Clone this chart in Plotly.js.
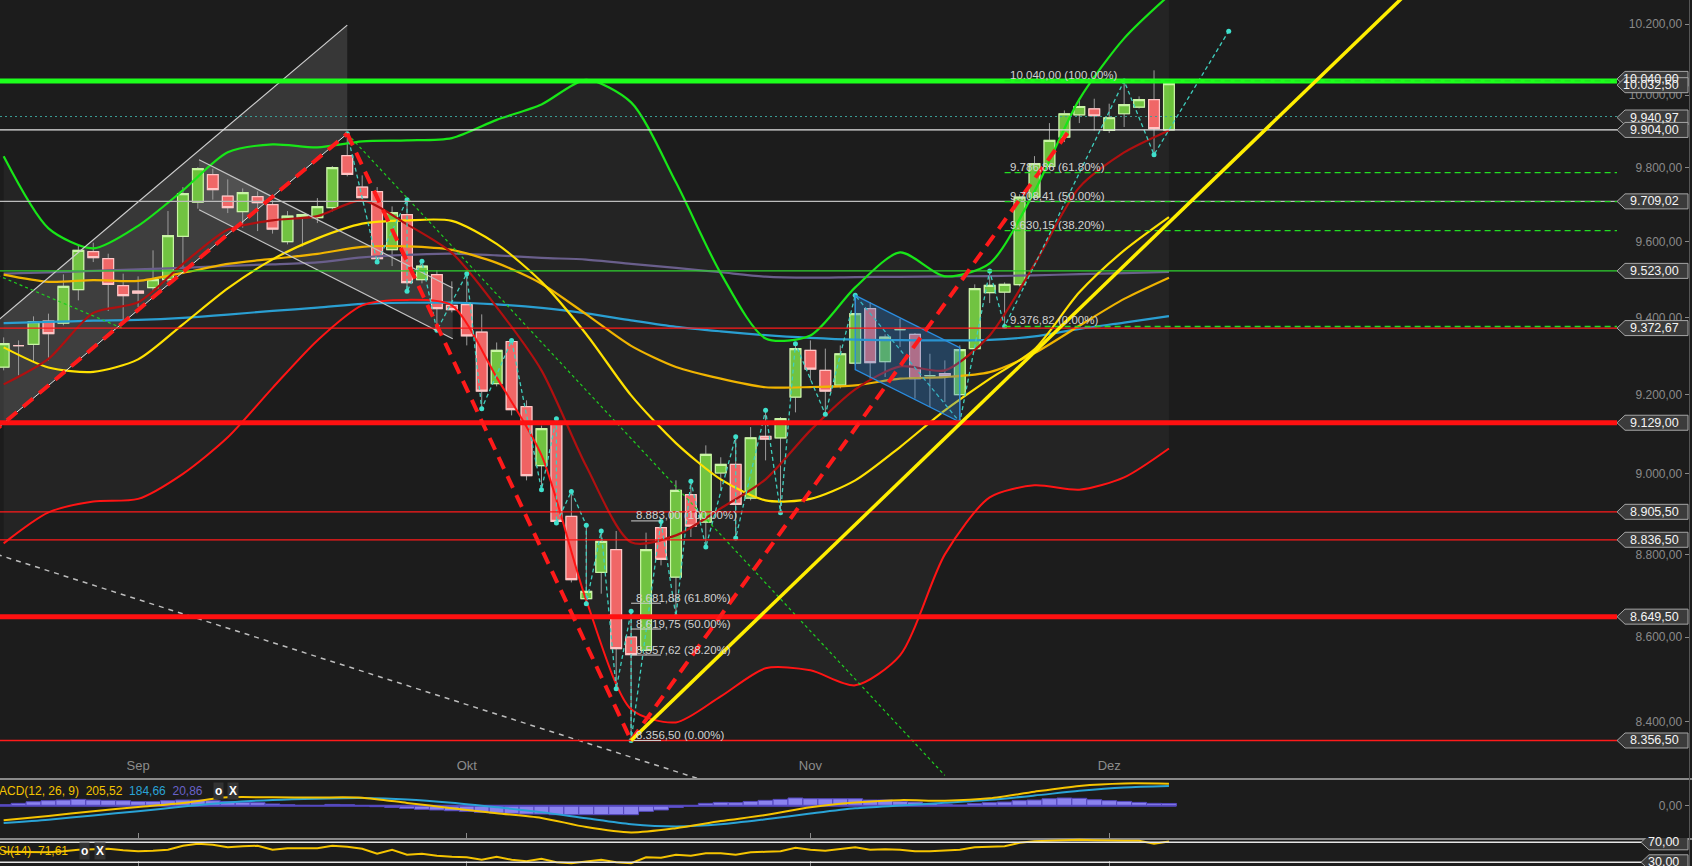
<!DOCTYPE html>
<html><head><meta charset="utf-8">
<script src="https://cdn.plot.ly/plotly-3.0.1.min.js"></script>
<style>html,body{margin:0;padding:0;background:#1c1c1c;overflow:hidden}#chart{width:1692px;height:866px}</style>
</head><body><div id="chart"></div>
<script>
// ---------- DATA ----------
const dates = ['2014-08-19','2014-08-20','2014-08-21','2014-08-22','2014-08-25','2014-08-26','2014-08-27','2014-08-28','2014-08-29',
'2014-09-01','2014-09-02','2014-09-03','2014-09-04','2014-09-05','2014-09-08','2014-09-09','2014-09-10','2014-09-11','2014-09-12',
'2014-09-15','2014-09-16','2014-09-17','2014-09-18','2014-09-19','2014-09-22','2014-09-23','2014-09-24','2014-09-25','2014-09-26','2014-09-29','2014-09-30',
'2014-10-01','2014-10-02','2014-10-03','2014-10-06','2014-10-07','2014-10-08','2014-10-09','2014-10-10','2014-10-13','2014-10-14','2014-10-15','2014-10-16','2014-10-17',
'2014-10-20','2014-10-21','2014-10-22','2014-10-23','2014-10-24','2014-10-27','2014-10-28','2014-10-29','2014-10-30','2014-10-31',
'2014-11-03','2014-11-04','2014-11-05','2014-11-06','2014-11-07','2014-11-10','2014-11-11','2014-11-12','2014-11-13','2014-11-14',
'2014-11-17','2014-11-18','2014-11-19','2014-11-20','2014-11-21','2014-11-24','2014-11-25','2014-11-26','2014-11-27','2014-11-28',
'2014-12-01','2014-12-02','2014-12-03','2014-12-04','2014-12-05'];

const open  = [9271.5,9326.9,9330.2,9391.0,9385.8,9473.4,9574.1,9555.4,9483.9,
9469.7,9478.7,9499.8,9614.9,9707.1,9781.4,9723.4,9681.3,9721.7,9700.1,9600.7,9666.7,9665.1,9692.0,9833.3,9747.7,9735.2,9579.4,9673.2,9499.8,9513.0,9432.1,
9434.0,9362.2,9228.8,9337.7,9169.9,9020.6,9124.9,8894.2,8692.8,8756.6,8812.2,8600.6,8568.8,8866.3,8745.3,8948.1,8880.1,9002.2,9023.8,8939.7,9094.4,9090.6,9194.5,
9314.7,9263.1,9225.2,9281.8,9423.5,9285.5,9368.6,9356.3,9249.4,9254.5,9200.6,9319.3,9465.5,9467.1,9486.6,9720.7,9804.1,9884.4,9945.8,9962.4,
9902.7,9948.6,9966.8,9987.6,9904.0];
const high  = [9348.4,9340.6,9403.3,9410.4,9513.8,9590.9,9598.1,9568.7,9515.7,
9508.5,9577.6,9682.9,9747.7,9802.2,9797.8,9768.6,9744.0,9736.1,9711.7,9682.9,9674.0,9717.9,9804.9,9893.7,9779.5,9747.7,9695.5,9713.6,9548.3,9524.4,9495.3,
9515.7,9408.5,9335.2,9340.6,9186.0,9121.6,9139.3,8956.3,8872.0,8858.1,8858.1,8662.2,8854.1,8881.8,8983.8,8981.3,9071.7,9041.7,9093.8,9118.0,9160.5,9143.4,9332.1,
9340.6,9319.3,9327.6,9458.4,9440.7,9356.3,9397.3,9359.7,9306.0,9288.8,9327.6,9487.4,9522.5,9492.6,9728.0,9832.1,9922.8,9957.8,9990.3,9990.3,
9976.5,10040.0,9996.9,10069.5,10033.0];
const low   = [9263.1,9250.2,9284.4,9288.8,9379.7,9445.2,9546.4,9417.2,9388.3,
9427.6,9467.1,9492.6,9533.1,9689.3,9713.6,9677.5,9638.2,9629.1,9622.3,9593.5,9588.2,9650.6,9682.0,9776.8,9709.0,9546.4,9535.8,9468.9,9490.0,9366.7,9413.8,
9327.6,9164.8,9221.9,9147.8,8983.8,8960.6,8877.6,8732.3,8680.7,8704.9,8477.8,8356.5,8557.0,8773.8,8650.1,8843.2,8818.8,8958.8,8840.7,8933.9,9033.9,8903.4,9155.4,
9237.3,9150.3,9216.8,9276.0,9241.7,9245.8,9323.4,9190.4,9168.9,9181.7,9130.7,9314.7,9438.1,9376.8,9482.1,9714.4,9798.6,9870.5,9922.8,9902.7,
9895.3,9911.8,9963.2,9836.0,9902.7];
const close = [9332.1,9326.9,9389.4,9358.1,9482.1,9577.6,9558.1,9487.4,9457.6,
9464.5,9499.8,9616.8,9729.9,9797.8,9740.7,9692.0,9732.6,9705.5,9634.5,9669.4,9673.2,9694.7,9800.5,9782.2,9719.0,9555.4,9678.6,9491.8,9535.8,9423.5,9420.8,
9352.6,9209.9,9314.9,9162.3,8995.6,9114.0,8881.8,8738.9,8710.5,8832.6,8572.8,8558.6,8812.2,8788.5,8958.8,8870.3,9049.2,9023.8,8924.0,9091.0,9087.6,9139.3,9319.3,
9266.4,9209.9,9306.0,9410.4,9282.9,9349.2,9368.6,9241.7,9249.4,9248.4,9316.7,9476.0,9484.7,9487.4,9720.7,9811.4,9875.2,9948.6,9968.8,9943.1,
9937.6,9973.7,9987.6,9907.4,10032.5];

// indicator lines, read every third trading day (first value = 2014-08-19)
const upperBB = [9831.4,9636.4,9582.9,9643.1,9738.8,9842.3,9864.2,9856.0,9872.5,9875.2,9881.5,9931.7,9974.6,10042.9,9980.2,9760.5,9516.5,9345.8,9353.6,9479.5,9572.2,9508.5,9543.0,9736.1,9988.5,10159.5,10281.8];
const midBB   = [9227.0,9292.7,9412.4,9440.0,9541.6,9632.9,9657.8,9669.4,9711.7,9647.1,9570.9,9427.6,9263.1,9018.9,8830.6,8847.3,8914.1,8986.3,9109.7,9214.3,9273.3,9263.1,9353.6,9540.3,9746.9,9842.3,9902.7];
const lowerBB = [8827.7,8904.1,8931.4,8937.6,9000.1,9092.0,9218.1,9340.6,9432.1,9446.5,9432.1,9245.0,9047.1,8688.7,8429.2,8398.7,8459.7,8526.0,8521.2,8485.7,8556.8,8800.7,8941.4,8971.3,8960.6,8991.3,9063.9];
const yellowMA = [9322.5,9270.3,9259.2,9291.4,9382.4,9476.8,9553.6,9609.6,9649.0,9657.8,9656.5,9594.9,9493.9,9356.7,9198.8,9077.5,8986.3,8933.9,8937.6,8983.8,9067.5,9160.5,9241.2,9317.3,9466.3,9577.6,9666.8];
const goldMA   = [9513.0,9494.0,9498.7,9496.6,9517.8,9541.6,9554.9,9568.2,9586.9,9588.2,9578.9,9544.3,9489.2,9408.5,9326.4,9271.8,9241.7,9219.6,9220.1,9224.5,9241.7,9245.8,9258.6,9307.7,9378.7,9449.1,9505.1];
const blueMA   = [9385.8,9388.6,9392.0,9394.1,9399.3,9407.7,9417.7,9425.9,9436.0,9438.9,9439.2,9434.7,9425.6,9411.1,9392.8,9375.8,9364.1,9354.1,9347.1,9342.4,9341.1,9340.6,9341.9,9351.0,9370.6,9386.8,9404.1];
const purpleMA = [9515.7,9519.1,9523.1,9527.0,9530.8,9536.4,9540.3,9545.6,9558.9,9565.5,9568.7,9564.2,9557.5,9553.0,9541.6,9531.0,9519.4,9507.8,9505.1,9506.7,9507.2,9508.5,9509.3,9511.2,9514.4,9517.3,9520.0];

const macdLine   = [-137,-97,-51,-12,26,78,78,77,75,26,-24,-70,-114,-200,-250,-210,-144,-88,-15,29,52,47,69,131,185,208,205.52];
const signalLine = [-162,-131,-91,-52,-8,30,54,66,71,59,28,-14,-60,-118,-173,-194,-174,-127,-73,-24,2,27,55,95,139,171,184.66];
const macdHist = [9,22,37,47,53,59,53,50,47,
40,40,47,53,53,47,40,31,28,16,9,3,2,12,9,0,-9,-16,-25,-34,-40,-47,
-53,-62,-69,-72,-78,-78,-84,-84,-84,-84,-84,-84,-53,-40,-16,-3,22,31,28,40,50,59,72,
65,65,65,65,53,53,40,34,22,12,6,19,28,34,47,53,65,72,69,56,
47,40,31,22,20.86];
const rsi = [51,51,50,50,52,55,56,57,54,
52,53,55,63,67,65,60,62,63,55,58,58,58,63,61,57,47,55,45,47,43,41,
40,35,41,35,32,37,30,28,32,35,30,28,40,39,45,43,48,48,45,50,51,52,59,
55,53,57,60,55,56,55,52,52,53,55,60,61,62,69,72,73,74,75,74,
73,73,73,67,71.61];

// zigzag swing points (trading-day offset from 1 Sep, price)
const zzDay   = [14,16,18,18,19,20,22,23,25,27,28,28,29,30,30,31,32,33,33,35,36,37,38,40,40,42,43,44,46,48,55,57,58,66,68,73];
const zzPrice = [9893.7,9546.4,9713.6,9468.9,9548.3,9366.7,9515.7,9164.8,9340.6,8960.6,9139.3,8877.6,8956.3,8872.0,8680.7,8858.1,8477.8,8662.2,8356.5,8881.8,8650.1,8981.3,8818.8,9093.8,8840.7,9160.5,8903.4,9332.1,9150.3,9458.4,9130.7,9522.5,9376.8,10040,9836.0,10180];

// drawings (day offset, price)
const chan1Day = [-12, 14], chan1Up = [9306.7, 10197], chan1Lo = [9032.4, 9893.7];
const chan2Day = [4.08, 21.06], chan2Up = [9822.3, 9477.6], chan2Lo = [9686.6, 9345.0];
const swingDay = [-12, 14, 33, 62.25], swingPrice = [9032.4, 9893.7, 8356.5, 9898.0];
const trendDay = [33, 85.13], trendPrice = [8356.5, 10296];
const greenDotDay = [14, 54], greenDotPrice = [9893.7, 8275.6];
const greenDot2Day = [-12, -0.99], greenDot2Price = [9554.9, 9371.1];
const whiteDotDay = [-12, 37.68], whiteDotPrice = [8830.6, 8266.3];
const flagDay = [48, 55], flagUp = [9458.4, 9321.7], flagLo = [9264.9, 9130.7];

// horizontal levels
const levelPrices = [10040, 9940.97, 9904, 9709.02, 9523, 9372.67, 9129, 8905.5, 8836.5, 8649.5, 8356.5];
const levelColors = ['#1cff1c','#3a9e96','#e4e4e4','#bdbdbd','#2fd22f','#ff1a1a','#ff1010','#ff1a1a','#ff1a1a','#ff1010','#ff1a1a'];
const levelWidths = [5,1,1.3,1.2,1.2,1.3,5,1.3,1.3,5,1.3];
const levelDash   = ['solid','2px,3px','solid','solid','solid','solid','solid','solid','solid','solid','solid'];
const tagPrices = [10040, 10032.5, 9940.97, 9904, 9709.02, 9523, 9372.67, 9129, 8905.5, 8836.5, 8649.5, 8356.5];
const tagShift  = [2, -1.6, -1, 0, 0, 0, 0, 0, 0, 0, 0, 0];

// fibonacci
const fibPct = ['100.00%','61.80%','50.00%','38.20%','0.00%'];
const fibUp = [10040, 9786.86, 9708.41, 9630.15, 9376.82], fibUpStart = 58;
const fibLo = [8883.00, 8681.88, 8619.75, 8557.62, 8356.50], fibLoStart = 33, fibLoEnd = 35;

const monthLabels = ['Sep','Okt','Nov','Dez'];
const monthStarts = ['2014-09-01','2014-10-01','2014-11-03','2014-12-01'];
const yTicks = [8400,8600,8800,9000,9200,9400,9600,9800,10000,10200];
const rsiLevels = [70, 30];

// ---------- HELPERS ----------
const base = dates.indexOf('2014-09-01');
const day = dates.map((d,k)=>k-base);
const maDay = day.filter((_,k)=>k%3===0);
function de(v){const s=v.toFixed(2).split('.');return s[0].replace(/\B(?=(\d{3})+(?!\d))/g,'.')+','+s[1];}
const FONT = 'Liberation Sans, Arial, sans-serif';
const xRange = [-9.244, 104.01];
const lineEnd = 98.99;      // where price lines meet their tags
const rsiLineEnd = 100.65;
const SM = 0.75;

// ---------- TRACES ----------
const traces = [];
traces.push({x:maDay,y:lowerBB,mode:'lines',line:{width:0,shape:'spline',smoothing:SM},hoverinfo:'skip'});
traces.push({x:maDay,y:upperBB,mode:'lines',line:{width:0,shape:'spline',smoothing:SM},fill:'tonexty',fillcolor:'rgba(255,255,255,0.035)',hoverinfo:'skip'});
traces.push({type:'candlestick',x:day,open:open,high:high,low:low,close:close,
  increasing:{line:{color:'#9a9a9a',width:1},fillcolor:'#6cc13b'},
  decreasing:{line:{color:'#9a9a9a',width:1},fillcolor:'#f06262'},hoverinfo:'skip'});
traces.push({type:'candlestick',x:day,open:open,close:close,
  high:open.map((o,k)=>Math.max(o,close[k])),low:open.map((o,k)=>Math.min(o,close[k])),
  increasing:{line:{color:'#c8f5a2',width:1.2},fillcolor:'#6cc13b'},
  decreasing:{line:{color:'#ffc4c4',width:1.2},fillcolor:'#f06262'},hoverinfo:'skip'});
const ma = (y,c,w)=>({x:maDay,y:y,mode:'lines',line:{color:c,width:w,shape:'spline',smoothing:SM},hoverinfo:'skip'});
traces.push(ma(purpleMA,'#6a5f8c',2.2));
traces.push(ma(blueMA,'#2a9fd2',2.2));
traces.push(ma(goldMA,'#f0b400',2.2));
traces.push(ma(yellowMA,'#ffe100',2.2));
traces.push(ma(lowerBB,'#ff1414',2));
traces.push(ma(midBB,'#b01010',2.2));
traces.push(ma(upperBB,'#18e618',2.2));
traces.push({x:zzDay,y:zzPrice,mode:'lines+markers',line:{color:'#3fcfbe',width:1.3,dash:'4px,3px'},marker:{color:'#3fe0cc',size:5},hoverinfo:'skip'});
// MACD
traces.push({type:'bar',x:day,y:macdHist,xaxis:'x2',yaxis:'y2',marker:{color:'#8b83ee',line:{color:'#5548bf',width:1}},hoverinfo:'skip'});
traces.push({x:[day[0]-0.5,day[day.length-1]+0.5],y:[0,0],xaxis:'x2',yaxis:'y2',mode:'lines',line:{color:'#5548bf',width:2},hoverinfo:'skip'});
traces.push({x:maDay,y:signalLine,xaxis:'x2',yaxis:'y2',mode:'lines',line:{color:'#2aa3d6',width:2,shape:'spline',smoothing:SM},hoverinfo:'skip'});
traces.push({x:maDay,y:macdLine,xaxis:'x2',yaxis:'y2',mode:'lines',line:{color:'#f5c400',width:2,shape:'spline',smoothing:SM},hoverinfo:'skip'});
// RSI
traces.push({x:day,y:rsi,xaxis:'x3',yaxis:'y3',mode:'lines',line:{color:'#f5c400',width:2},hoverinfo:'skip'});

// ---------- SHAPES ----------
const shapes = [];
const P = (d,p)=>d+','+p;
shapes.push({type:'path',layer:'below',xref:'x',yref:'y',path:`M ${P(chan1Day[0],chan1Up[0])} L ${P(chan1Day[1],chan1Up[1])} L ${P(chan1Day[1],chan1Lo[1])} L ${P(chan1Day[0],chan1Lo[0])} Z`,fillcolor:'rgba(255,255,255,0.12)',line:{width:0}});
shapes.push({type:'path',layer:'below',xref:'x',yref:'y',path:`M ${P(chan2Day[0],chan2Up[0])} L ${P(chan2Day[1],chan2Up[1])} L ${P(chan2Day[1],chan2Lo[1])} L ${P(chan2Day[0],chan2Lo[0])} Z`,fillcolor:'rgba(255,255,255,0.10)',line:{width:0}});
const seg=(x0,y0,x1,y1,color,width,dash,yref)=>({type:'line',xref:yref==='y3'?'x3':'x',yref:yref||'y',x0,y0,x1,y1,line:{color,width,dash:dash||'solid'},layer:'above'});
shapes.push(seg(chan1Day[0],chan1Up[0],chan1Day[1],chan1Up[1],'#cfcfcf',1.2));
shapes.push(seg(chan1Day[0],chan1Lo[0],chan1Day[1],chan1Lo[1],'#e0e0e0',1));
shapes.push(seg(chan2Day[0],chan2Up[0],chan2Day[1],chan2Up[1],'#c4c4c4',1.2));
shapes.push(seg(chan2Day[0],chan2Lo[0],chan2Day[1],chan2Lo[1],'#c4c4c4',1.2));
shapes.push(seg(whiteDotDay[0],whiteDotPrice[0],whiteDotDay[1],whiteDotPrice[1],'#bdbdbd',1.5,'5px,5px'));
shapes.push(seg(greenDotDay[0],greenDotPrice[0],greenDotDay[1],greenDotPrice[1],'#1fd01f',1.2,'3px,3px'));
shapes.push(seg(greenDot2Day[0],greenDot2Price[0],greenDot2Day[1],greenDot2Price[1],'#1fd01f',1.2,'3px,3px'));
shapes.push({type:'path',xref:'x',yref:'y',layer:'above',path:`M ${P(flagDay[0],flagUp[0])} L ${P(flagDay[1],flagUp[1])} L ${P(flagDay[1],flagLo[1])} L ${P(flagDay[0],flagLo[0])} Z`,fillcolor:'rgba(40,125,205,0.33)',line:{color:'#2a8de0',width:1.3}});
levelPrices.forEach((p,k)=>shapes.push(seg(xRange[0],p,lineEnd,p,levelColors[k],levelWidths[k],levelDash[k])));
fibUp.forEach(p=>shapes.push(seg(fibUpStart,p,lineEnd,p,'#22dd22',1.3,'6px,4px')));
fibLo.forEach(p=>shapes.push(seg(fibLoStart,p,fibLoEnd,p,'#d0d0d0',1)));
for(let k=0;k<swingDay.length-1;k++) shapes.push(seg(swingDay[k],swingPrice[k],swingDay[k+1],swingPrice[k+1],'#ff1a1a',4,'13px,8px'));
shapes.push(seg(trendDay[0],trendPrice[0],trendDay[1],trendPrice[1],'#ffee00',3.5));
rsiLevels.forEach(v=>shapes.push(seg(xRange[0],v,rsiLineEnd,v,'#e6e6e6',1.5,'solid','y3')));
// price tags
const tagPath=(w,s)=>`M ${-w},${s} L ${-w+8},${7.5+s} L -4,${7.5+s} L -4,${-7.5+s} L ${-w+8},${-7.5+s} Z`;
tagPrices.forEach((p,k)=>shapes.push({type:'path',xref:'x',yref:'y',xsizemode:'pixel',ysizemode:'pixel',xanchor:xRange[1],yanchor:p,path:tagPath(75,tagShift[k]),fillcolor:'#3b3b3b',line:{color:'#a6a6a6',width:1},layer:'above'}));
rsiLevels.forEach(v=>shapes.push({type:'path',xref:'x3',yref:'y3',xsizemode:'pixel',ysizemode:'pixel',xanchor:xRange[1],yanchor:v,path:tagPath(51,0),fillcolor:'#3b3b3b',line:{color:'#a6a6a6',width:1},layer:'above'}));

// ---------- ANNOTATIONS ----------
const ann = [];
tagPrices.forEach((p,k)=>ann.push({xref:'paper',yref:'y',x:1681/1692,y:Math.log10(p),yshift:tagShift[k],xanchor:'right',yanchor:'middle',showarrow:false,text:de(p),font:{family:FONT,size:12.5,color:'#f4f4f4'}}));
rsiLevels.forEach(v=>ann.push({xref:'paper',yref:'y3',x:1681/1692,y:v,xanchor:'right',yanchor:'middle',showarrow:false,text:de(v),font:{family:FONT,size:12.5,color:'#f4f4f4'}}));
fibUp.forEach((p,k)=>ann.push({xref:'x',yref:'y',x:fibUpStart,xshift:3,y:Math.log10(p),yshift:6,xanchor:'left',yanchor:'middle',showarrow:false,text:de(p)+' ('+fibPct[k]+')',font:{family:FONT,size:11.5,color:'#d2d2d2'}}));
fibLo.forEach((p,k)=>ann.push({xref:'x',yref:'y',x:fibLoStart,xshift:3,y:Math.log10(p),yshift:5.5,xanchor:'left',yanchor:'middle',showarrow:false,text:de(p)+' ('+fibPct[k]+')',font:{family:FONT,size:11.5,color:'#d2d2d2'}}));
const last = a=>a[a.length-1];
ann.push({xref:'paper',yref:'paper',x:-13/1692,y:1-790.7/866,xanchor:'left',yanchor:'middle',showarrow:false,
  text:`<span style="color:#f5c400">MACD(12, 26, 9)  ${de(last(macdLine))}</span>  <span style="color:#2aa3d6">${de(last(signalLine))}</span>  <span style="color:#6a62c8">${de(last(macdHist))}</span>`,
  font:{family:FONT,size:12}});
ann.push({xref:'paper',yref:'paper',x:-12/1692,y:1-851.3/866,xanchor:'left',yanchor:'middle',showarrow:false,
  text:`<span style="color:#f5c400">RSI(14)  ${de(last(rsi))}</span>`,font:{family:FONT,size:12}});
[[218,790.7],[233.5,790.7],[84,851.3],[99.5,851.3]].forEach((c,k)=>ann.push({xref:'paper',yref:'paper',x:c[0]/1692,y:1-c[1]/866,xanchor:'center',yanchor:'middle',showarrow:false,
  text:k%2===0?'<b>o</b>':'<b>X</b>',bgcolor:'#333333',borderpad:1,font:{family:FONT,size:12,color:'#ffffff'}}));

// ---------- LAYOUT ----------
const monthIdx = monthStarts.map(d=>day[dates.indexOf(d)]);
const ax = {showgrid:false,zeroline:false,fixedrange:true};
const layout = {
  width:1692,height:866,margin:{l:0,r:0,t:0,b:0},
  paper_bgcolor:'#1c1c1c',plot_bgcolor:'#1c1c1c',showlegend:false,hovermode:false,
  boxgap:0.15,boxgroupgap:0.15,bargap:0,
  xaxis:Object.assign({},ax,{domain:[0,1],range:xRange,anchor:'y',rangeslider:{visible:false},showline:true,linecolor:'#8a8a8a',linewidth:1.5,
    tickvals:monthIdx,ticktext:monthLabels,ticks:'',ticklabelposition:'inside',ticklabelstandoff:5,tickfont:{family:FONT,size:13,color:'#8c8c8c'}}),
  yaxis:Object.assign({},ax,{domain:[1-778/866,1],type:'log',range:[3.917492,4.01151],anchor:'free',position:0.998,side:'left',
    showline:true,linecolor:'#555555',ticks:'outside',ticklen:4,tickcolor:'#8a8a8a',tickvals:yTicks,ticktext:yTicks.map(de),
    tickfont:{family:FONT,size:12,color:'#8a8a8a'}}),
  xaxis2:Object.assign({},ax,{matches:'x',anchor:'y2',domain:[0,1],showline:true,linecolor:'#8a8a8a',linewidth:1.5,ticks:'inside',ticklen:5,tickcolor:'#8a8a8a',tickvals:monthIdx,showticklabels:false}),
  yaxis2:Object.assign({},ax,{domain:[1-838/866,1-778/866],range:[-301.9,258.9],anchor:'free',position:0.998,side:'left',showline:true,linecolor:'#555555',
    ticks:'outside',ticklen:4,tickcolor:'#8a8a8a',tickvals:[0],ticktext:[de(0)],tickfont:{family:FONT,size:12,color:'#8a8a8a'}}),
  xaxis3:Object.assign({},ax,{matches:'x',anchor:'y3',domain:[0,1],showline:false,ticks:'inside',ticklen:5,tickcolor:'#8a8a8a',tickvals:monthIdx,showticklabels:false}),
  yaxis3:Object.assign({},ax,{domain:[0,1-838/866],range:[22.6,78.6],anchor:'free',position:0.998,side:'left',showline:true,linecolor:'#555555',showticklabels:false,ticks:''}),
  shapes:shapes,annotations:ann
};
Plotly.newPlot('chart',traces,layout,{staticPlot:true,displayModeBar:false});
</script></body></html>
